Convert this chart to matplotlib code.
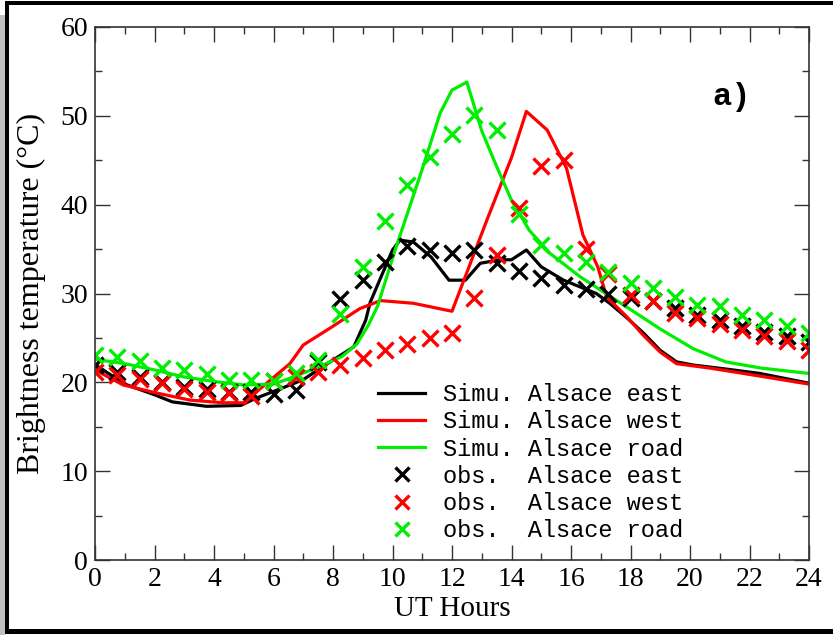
import matplotlib
matplotlib.use("Agg")
import matplotlib.pyplot as plt
from matplotlib.patches import Rectangle
from matplotlib.ticker import MultipleLocator

# ---- data ----
obs_hours = [i * 0.75 for i in range(33)]
obs_east = [22.0, 21.2, 20.6, 20.0, 19.5, 19.3, 18.9, 18.9, 18.7, 19.1, 22.3, 29.4, 31.5,
            33.6, 35.3, 34.9, 34.6, 34.9, 33.4, 32.5, 31.7, 31.0, 30.5, 30.0, 29.5, 29.2,
            28.4, 27.6, 27.0, 26.3, 25.7, 25.2, 24.5]
obs_west = [21.2, 20.8, 20.4, 19.9, 19.3, 18.9, 18.8, 18.5, 20.1, 20.6, 21.2, 21.9, 22.7,
            23.6, 24.3, 25.0, 25.6, 29.5, 34.3, 39.6, 44.3, 45.0, 35.0, 32.2, 29.8, 29.1,
            27.8, 27.2, 26.6, 25.9, 25.2, 24.6, 23.6]
obs_road = [23.1, 22.9, 22.4, 21.6, 21.4, 20.9, 20.3, 20.3, 20.2, 21.0, 22.5, 27.7, 33.0,
            38.2, 42.2, 45.4, 48.0, 50.1, 48.4, 39.0, 35.5, 34.6, 33.5, 32.4, 31.2, 30.6,
            29.6, 28.7, 28.6, 27.6, 27.0, 26.3, 25.5]

sim_east_t = [0, 1, 2, 2.6, 3.75, 4.9, 5.4, 6.1, 7.0, 7.9, 8.7, 9.1, 9.25, 10.0, 10.25, 10.7,
              11.3, 11.9, 12.45, 12.95, 13.6, 14.0, 14.5, 15.0, 15.75, 16.85, 17.3, 17.9,
              18.45, 19.0, 19.55, 20.1, 21.2, 22.35, 24]
sim_east = [22.0, 19.8, 18.6, 17.8, 17.3, 17.4, 18.2, 19.1, 20.3, 22.3, 24.0, 27.0, 29.0,
            34.9, 36.0, 35.8, 34.1, 31.5, 31.5, 33.4, 33.8, 33.8, 34.9, 33.0, 31.5, 30.0,
            28.9, 27.2, 25.5, 23.6, 22.3, 21.95, 21.5, 21.0, 19.9]

sim_west_t = [0, 0.95, 2.07, 3.19, 4.3, 5.0, 5.77, 6.55, 7.0, 7.9, 8.9, 9.6, 10.7, 12.0,
              13.2, 14.0, 14.5, 15.2, 15.85, 16.4, 16.9, 17.2, 17.87, 18.43, 19.0, 19.55,
              20.67, 21.8, 22.9, 24]
sim_west = [21.4, 19.7, 18.8, 18.0, 17.7, 17.7, 19.9, 22.1, 24.2, 26.1, 28.3, 29.2, 28.9,
            28.0, 38.5, 45.3, 50.5, 48.4, 44.1, 36.6, 33.0, 29.6, 27.4, 25.3, 23.4, 22.1,
            21.6, 21.0, 20.4, 19.8]

sim_road_t = [0, 1, 2, 3, 4, 5, 6, 6.5, 7.5, 8.3, 8.8, 9.2, 9.5, 10.1, 11.0, 11.6, 12.0,
              12.5, 13.0, 13.5, 14.0, 14.6, 15.3, 16.3, 17.4, 18.0, 19.0, 20.1, 21.2, 22.4, 24]
sim_road = [22.6, 22.1, 21.4, 20.6, 20.1, 19.7, 19.8, 20.4, 21.7, 22.9, 24.3, 26.5, 28.6,
            35.0, 44.0, 50.3, 52.9, 53.8, 48.3, 44.3, 40.5, 37.1, 34.5, 31.9, 29.5, 28.2,
            26.0, 23.8, 22.3, 21.6, 21.0]

x_ticks = list(range(0, 25, 2))
y_ticks = list(range(0, 61, 10))

c_black, c_red, c_green = "#000000", "#ff0000", "#00ee00"

# ---- figure ----
W, H = 833, 635
fig = plt.figure(figsize=(W / 100, H / 100), dpi=100)
fig.patch.set_facecolor("white")

def px_rect(x0, y0, x1, y1, color):
    fig.add_artist(Rectangle((x0 / W, 1 - y1 / H), (x1 - x0) / W, (y1 - y0) / H,
                             transform=fig.transFigure, facecolor=color,
                             edgecolor="none", zorder=-5))

px_rect(0, 15, 5, 635, "#c0c0c0")
px_rect(5, 1, 9, 634, "#000000")
px_rect(5, 1, 833, 5, "#000000")
px_rect(5, 629, 833, 634, "#000000")

ax = fig.add_axes([95 / W, 1 - 560 / H, (809 - 95) / W, (560 - 27) / H])

serif = "Liberation Serif"
mono = "Liberation Mono"

lw = 2.3
ax.plot(sim_east_t, sim_east, color=c_black, lw=lw, label="Simu. Alsace east")
ax.plot(sim_west_t, sim_west, color=c_red, lw=lw, label="Simu. Alsace west")
ax.plot(sim_road_t, sim_road, color=c_green, lw=lw, label="Simu. Alsace road")
ms, mew = 12, 2.4
ax.plot(obs_hours, obs_east, ls="none", marker="x", ms=ms, mew=mew, color=c_black,
        label="obs.  Alsace east")
ax.plot(obs_hours, obs_west, ls="none", marker="x", ms=ms, mew=mew, color=c_red,
        label="obs.  Alsace west")
ax.plot(obs_hours, obs_road, ls="none", marker="x", ms=ms, mew=mew, color=c_green,
        label="obs.  Alsace road")

ax.set_xlim(0, 24)
ax.set_ylim(0, 60)
ax.set_xticks(x_ticks)
ax.set_yticks(y_ticks)
ax.xaxis.set_minor_locator(MultipleLocator(1))
ax.yaxis.set_minor_locator(MultipleLocator(5))
ax.tick_params(which="both", direction="in", top=True, right=True, color="#333333",
               width=1.0)
ax.tick_params(which="major", length=10.8, labelsize=20, pad=5)
ax.tick_params(which="minor", length=5)
for lab in ax.get_xticklabels() + ax.get_yticklabels():
    lab.set_fontfamily(serif)
for sp in ax.spines.values():
    sp.set_linewidth(1.2)
    sp.set_color("#333333")

ax.set_xlabel("UT Hours", fontfamily=serif, fontsize=21)
ax.set_ylabel("Brightness temperature (°C)", fontfamily=serif, fontsize=23)
ax.xaxis.set_label_coords(0.5, -0.068)
ax.yaxis.set_label_coords(-0.068, 0.5)

ax.text(0.892, 0.869, "a)", transform=ax.transAxes, fontfamily=mono,
        fontweight="bold", fontsize=23, ha="center", va="center")

leg = ax.legend(loc="upper left", bbox_to_anchor=((378 - 95) / 714, (560 - 383) / 533),
                frameon=False, prop={"family": mono, "size": 17},
                handlelength=2.0, handletextpad=0.75, labelspacing=0.18,
                borderpad=0, borderaxespad=0, markerscale=0.85)

fig.savefig("out.png", dpi=100)
